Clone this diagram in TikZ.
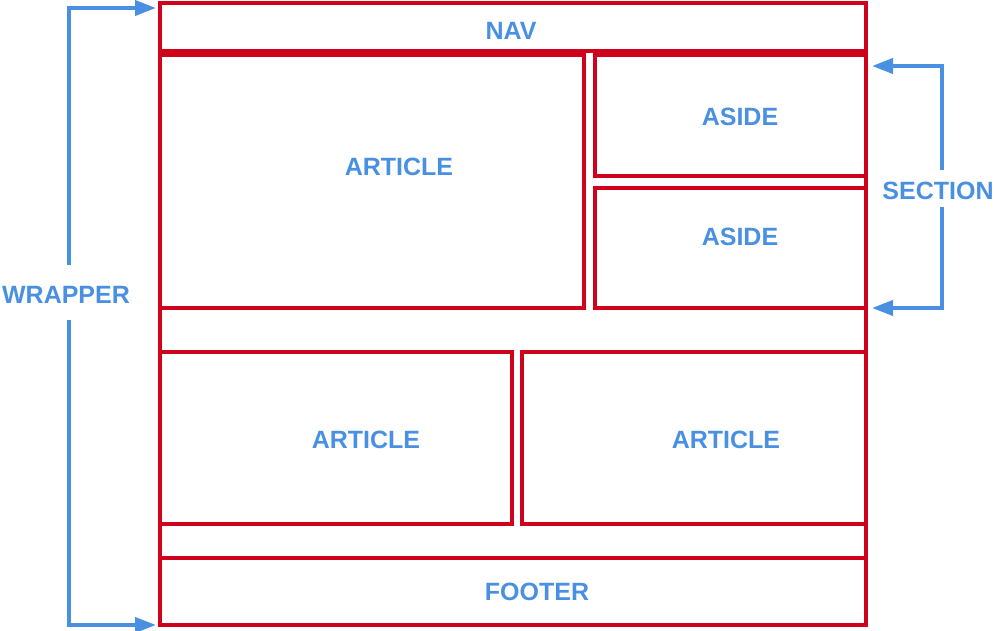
\documentclass[tikz,border=0pt]{standalone}
\usepackage{fontspec}
\setmainfont{Liberation Sans}
\usetikzlibrary{arrows.meta}
\definecolor{rouge}{HTML}{D0021B}
\definecolor{bleu}{HTML}{4A90E2}

\begin{document}
\begin{tikzpicture}[x=1pt,y=-1pt,
	bloc/.style={draw=rouge,line width=3.9pt,rectangle,inner sep=0pt,outer sep=0pt},
	titre/.style={text=bleu,font=\fontsize{25}{29}\selectfont\bfseries,inner sep=0pt},
	fleche/.style={draw=bleu,line width=4pt,-{Triangle[length=21pt,width=15pt]}}]
		\useasboundingbox (0,0) rectangle (997,631);
		%\node (nom node) at(x,y) [options] {affichage} ;
		\node (wrapper) at(513,314) [bloc,minimum width=706,minimum height=622] {} ;
		\node (nav) at(513,27) [bloc,minimum width=706,minimum height=48] {} ;
		\node (article 1) at(372,181.5) [bloc,minimum width=424,minimum height=253] {} ;
		\node (aside 1) at(730.5,115.5) [bloc,minimum width=271,minimum height=121] {} ;
		\node (aside 2) at(730.5,248) [bloc,minimum width=271,minimum height=120] {} ;
		\node (article 2) at(336,438) [bloc,minimum width=352,minimum height=172] {} ;
		\node (article 3) at(694,438) [bloc,minimum width=344,minimum height=172] {} ;
		\node (footer) at(513,591.5) [bloc,minimum width=706,minimum height=67] {} ;

		%textes des blocs
		\node (texte nav) at(511,30.5) [titre] {NAV} ;
		\node (texte article 1) at(399,167) [titre] {ARTICLE} ;
		\node (texte aside 1) at(740,117) [titre] {ASIDE} ;
		\node (texte aside 2) at(740,237) [titre] {ASIDE} ;
		\node (texte article 2) at(366,440) [titre] {ARTICLE} ;
		\node (texte article 3) at(726,440) [titre] {ARTICLE} ;
		\node (texte footer) at(537,592) [titre] {FOOTER} ;
		\node (texte wrapper) at(66,295) [titre] {WRAPPER} ;
		\node (texte section) at(938,191) [titre] {SECTION} ;

		%accolades
		\coordinate (w haut) at(69,265) ;
		\coordinate (w bas) at(69,320) ;
		\coordinate (s haut) at(942,170) ;
		\coordinate (s bas) at(942,207) ;
		\draw[fleche] (w haut) |- ([shift={(-4,5)}]wrapper.north west) ;
		\draw[fleche] (w bas) |- ([xshift=-4pt]wrapper.south west) ;
		\draw[fleche] (s haut) |- ([shift={(6,11)}]aside 1.north east) ;
		\draw[fleche] (s bas) |- ([xshift=6pt]aside 2.south east) ;
	\end{tikzpicture}
\end{document}
